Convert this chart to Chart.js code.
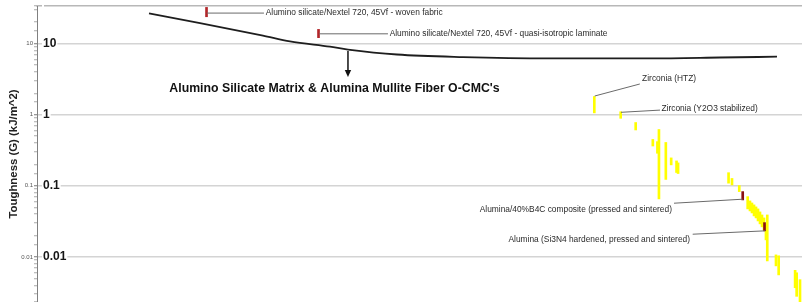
<!DOCTYPE html>
<html><head><meta charset="utf-8">
<script src="https://cdn.jsdelivr.net/npm/chart.js@4.4.1/dist/chart.umd.min.js"></script>
<style>html,body{margin:0;padding:0;background:#fff;overflow:hidden}canvas{display:block}</style>
</head><body>
<canvas id="c" width="802" height="302"></canvas>
<script>
// ---- data ----
const yMin = 0.00233, yMax = 33.7;
const yTickValues = [10, 1, 0.1, 0.01];
const yTitle = 'Toughness (G) (kJ/m^2)';

// yellow material ranges (x = material rank, low/high toughness)
const yellowX    = [72.85, 76.3, 78.26, 80.5, 81.1, 81.3, 82.2, 82.9, 83.6, 83.8, 90.4, 90.85, 91.8, 92.9, 93.2, 93.46, 93.73, 93.99, 94.25, 94.51, 94.77, 95.03, 95.29, 95.46, 96.6, 96.95, 99.1, 99.3, 99.74];
const yellowLow  = [1.06, 0.89, 0.61, 0.363, 0.287, 0.0655, 0.123, 0.197, 0.154, 0.149, 0.109, 0.103, 0.083, 0.0474, 0.0444, 0.0416, 0.0378, 0.0354, 0.0321, 0.0292, 0.0265, 0.0240, 0.0174, 0.0088, 0.0075, 0.0056, 0.0037, 0.0028, 0.0022];
const yellowHigh = [1.80, 1.10, 0.776, 0.449, 0.418, 0.619, 0.407, 0.247, 0.224, 0.210, 0.153, 0.127, 0.101, 0.0705, 0.0614, 0.0575, 0.0540, 0.0506, 0.0474, 0.0430, 0.0390, 0.0354, 0.0282, 0.039, 0.0107, 0.0104, 0.0065, 0.0060, 0.0048];

// highlighted (red) materials
const cmcX = [22.16, 36.8];
const cmcLow = [23.8, 12.1];
const cmcHigh = [32.2, 15.8];
const aluX = [92.25, 95.1];
const aluLow = [0.0634, 0.0233];
const aluHigh = [0.083, 0.0304];

// O-CMC trend curve
const curveX = [14.64, 21.31, 29.54, 33.07, 38.3, 40.65, 47.06, 55.69, 67.06, 80.13, 89.28, 96.73];
const curveY = [26.6, 19.4, 12.9, 10.7, 9.02, 8.24, 7.01, 6.46, 6.20, 6.20, 6.36, 6.53];

// annotations
const noteTexts = [
  'Alumino silicate/Nextel 720, 45Vf - woven fabric',
  'Alumino silicate/Nextel 720, 45Vf - quasi-isotropic laminate',
  'Zirconia (HTZ)',
  'Zirconia (Y2O3 stabilized)',
  'Alumina/40%B4C composite (pressed and sintered)',
  'Alumina (Si3N4 hardened, pressed and sintered)'
];
const noteAnchor    = [[22.2, 26.8], [36.9, 13.7], [72.9, 1.83], [76.34, 1.08], [92.25, 0.0649], [95.16, 0.0233]];
const noteLeaderEnd = [[29.67, 26.8], [45.88, 13.7], [78.8, 2.70], [81.44, 1.16], [83.27, 0.0570], [85.71, 0.0209]];
const noteTextAt    = [[29.9, 26.8], [46.1, 13.7], [79.1, 3.17], [81.63, 1.20], [83.0, 0.0467], [85.36, 0.0174]];
const noteAlign     = ['left', 'left', 'left', 'left', 'right', 'right'];
const groupLabel = "Alumino Silicate Matrix & Alumina Mullite Fiber O-CMC's";
const groupLabelAt = [17.3, 2.33];
const arrowFrom = [40.65, 7.85];
const arrowTo = [40.65, 3.38];

// ---- chart ----
const FONT = "'Liberation Sans', Arial, Helvetica, sans-serif";
Chart.defaults.font.family = FONT;

const labelOf = v => {
  const t = yTickValues.find(t => Math.abs(Math.log10(t) - Math.log10(v)) < 1e-6);
  return t === undefined ? '' : String(t);
};

const ranges = (xs, lo, hi) => xs.map((x, i) => ({x: x, y: [lo[i], hi[i]]}));

const notesPlugin = {
  id: 'notes',
  afterDatasetsDraw(chart) {
    const {ctx, scales: {x, y}} = chart;
    const P = p => [x.getPixelForValue(p[0]), y.getPixelForValue(p[1])];
    ctx.save();
    noteTexts.forEach((t, i) => {
      const a = P(noteAnchor[i]), e = P(noteLeaderEnd[i]), s = P(noteTextAt[i]);
      ctx.strokeStyle = '#6a6a6a';
      ctx.lineWidth = 1;
      ctx.beginPath();
      ctx.moveTo(a[0], a[1]);
      ctx.lineTo(e[0], e[1]);
      ctx.stroke();
      ctx.fillStyle = '#2a2a2a';
      ctx.font = '8.4px ' + FONT;
      ctx.textAlign = noteAlign[i];
      ctx.textBaseline = 'middle';
      ctx.fillText(t, s[0], s[1]);
    });
    const f = P(arrowFrom), to = P(arrowTo);
    ctx.strokeStyle = '#111';
    ctx.fillStyle = '#111';
    ctx.lineWidth = 1.5;
    ctx.beginPath();
    ctx.moveTo(f[0], f[1]);
    ctx.lineTo(to[0], to[1] - 6);
    ctx.stroke();
    ctx.beginPath();
    ctx.moveTo(to[0] - 3.2, to[1] - 7);
    ctx.lineTo(to[0] + 3.2, to[1] - 7);
    ctx.lineTo(to[0], to[1]);
    ctx.closePath();
    ctx.fill();
    const g = P(groupLabelAt);
    ctx.fillStyle = '#111';
    ctx.font = 'bold 12.3px ' + FONT;
    ctx.textAlign = 'left';
    ctx.textBaseline = 'middle';
    ctx.fillText(groupLabel, g[0], g[1]);
    ctx.restore();
  }
};

new Chart(document.getElementById('c'), {
  type: 'bar',
  data: {
    datasets: [
      {type: 'line', data: curveX.map((x, i) => ({x: x, y: curveY[i]})), borderColor: '#1e1e1e', borderWidth: 1.8,
       pointRadius: 0, cubicInterpolationMode: 'monotone', fill: false, order: 0, xAxisID: 'x', yAxisID: 'y'},
      {data: ranges(cmcX, cmcLow, cmcHigh), backgroundColor: '#b3262a', order: 1, xAxisID: 'x', yAxisID: 'y'},
      {data: ranges(aluX, aluLow, aluHigh), backgroundColor: '#8a1010', order: 1, xAxisID: 'x', yAxisID: 'y'},
      {data: ranges(yellowX, yellowLow, yellowHigh), backgroundColor: '#ffff00', order: 2, xAxisID: 'x', yAxisID: 'y'}
    ]
  },
  options: {
    responsive: false,
    devicePixelRatio: 1,
    animation: false,
    events: [],
    layout: {padding: {top: 6, right: 0, bottom: 0, left: 0}},
    datasets: {bar: {barThickness: 2, grouped: false, borderWidth: 0, borderSkipped: false}},
    plugins: {legend: {display: false}, tooltip: {enabled: false}},
    scales: {
      x: {
        type: 'linear', position: 'top', min: 0, max: 100, offset: false,
        ticks: {display: false},
        grid: {display: false, drawTicks: false},
        border: {display: true, color: '#b8b8b8', width: 1.5},
        afterFit: s => { s.height = 0; }
      },
      y: {
        type: 'logarithmic', position: 'left', weight: 1, min: yMin, max: yMax,
        title: {display: true, text: yTitle, color: '#222', font: {size: 11.4, weight: 'bold'}, padding: {top: 7, bottom: 0}},
        ticks: {autoSkip: false, callback: v => labelOf(v), font: {size: 6}, color: '#555', padding: 1},
        grid: {
          color: c => (c.tick && labelOf(c.tick.value) !== '') ? '#d4d4d4' : 'rgba(0,0,0,0)',
          lineWidth: 1.5,
          tickColor: c => (c.tick && labelOf(c.tick.value) !== '') ? '#777' : '#aaa',
          tickLength: 3, tickWidth: 1
        },
        border: {display: true, color: '#808080', width: 1},
        afterFit: s => { s.width = 37; s.paddingTop = 0; s.paddingBottom = 0; }
      },
      y2: {
        type: 'logarithmic', position: 'left', weight: 0, min: yMin, max: yMax,
        ticks: {autoSkip: false, mirror: true, padding: 6, callback: v => labelOf(v),
                font: {size: 12, weight: 'bold'}, color: '#151515',
                showLabelBackdrop: true, backdropColor: '#ffffff', backdropPadding: 1},
        grid: {display: false, drawTicks: false},
        border: {display: false},
        afterFit: s => { s.width = 0; s.paddingTop = 0; s.paddingBottom = 0; }
      }
    }
  },
  plugins: [notesPlugin]
});
</script>
</body></html>
